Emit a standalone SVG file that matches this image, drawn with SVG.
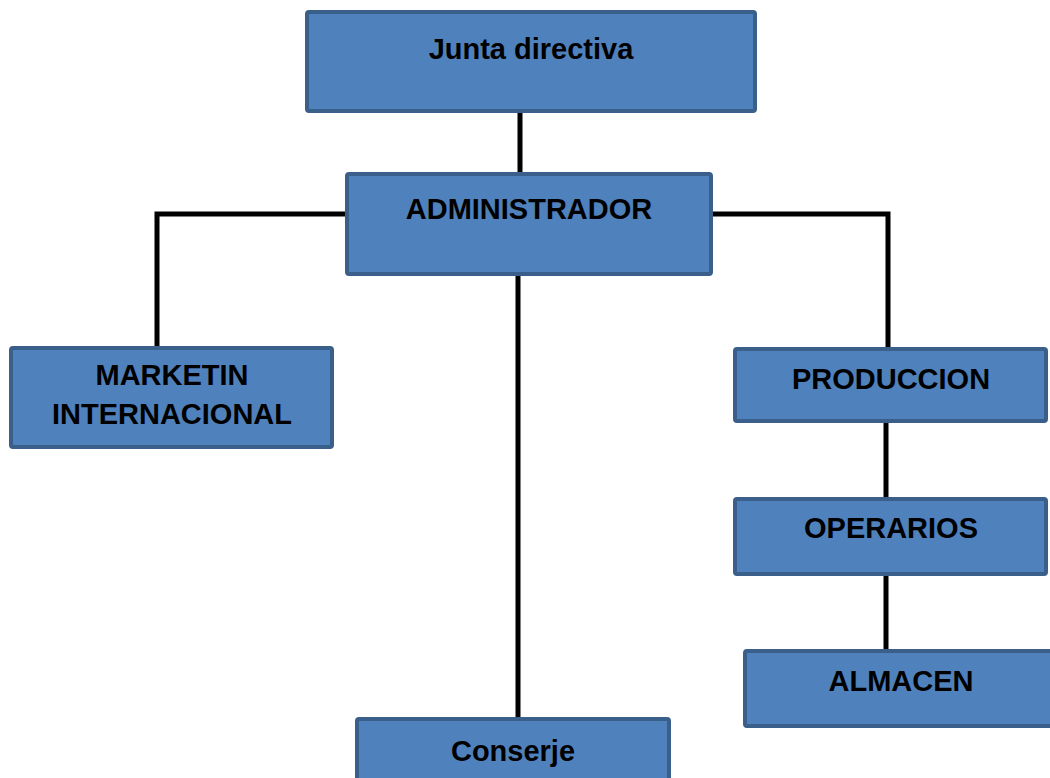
<svg xmlns="http://www.w3.org/2000/svg" width="1050" height="778" viewBox="0 0 1050 778">
<style>
.box{fill:#4F81BD;stroke:#3A5F8B;stroke-width:4}
.lbl{font-family:"Liberation Sans",Arial,sans-serif;font-weight:bold;font-size:29px;fill:#000;text-anchor:middle}
.ln{stroke:#000;stroke-width:5;fill:none}
</style>
<rect width="1050" height="778" fill="#fff"/>
<g id="connectors">
<line class="ln" x1="520" y1="112" x2="520" y2="173"/>
<line class="ln" x1="518" y1="275" x2="518" y2="719"/>
<polyline class="ln" points="346,214 157,214 157,348"/>
<polyline class="ln" points="712,214 888,214 888,350"/>
<line class="ln" x1="886" y1="422" x2="886" y2="498"/>
<line class="ln" x1="886" y1="575" x2="886" y2="650"/>
</g>
<g id="junta"><rect class="box" x="307" y="12" width="448" height="99" rx="2"/><text class="lbl" x="531" y="59">Junta directiva</text></g>
<g id="administrador"><rect class="box" x="347" y="174" width="364" height="100" rx="2"/><text class="lbl" x="529" y="219">ADMINISTRADOR</text></g>
<g id="marketin"><rect class="box" x="11" y="348" width="321" height="99" rx="2"/><text class="lbl" x="172" y="385">MARKETIN</text><text class="lbl" x="172" y="424">INTERNACIONAL</text></g>
<g id="produccion"><rect class="box" x="735" y="349" width="311" height="72" rx="2"/><text class="lbl" x="891" y="389">PRODUCCION</text></g>
<g id="operarios"><rect class="box" x="735" y="499" width="311" height="75" rx="2"/><text class="lbl" x="891" y="538">OPERARIOS</text></g>
<g id="almacen"><rect class="box" x="745" y="651" width="316" height="75" rx="2"/><text class="lbl" x="901" y="691">ALMACEN</text></g>
<g id="conserje"><rect class="box" x="357" y="719" width="312" height="80" rx="2"/><text class="lbl" x="513" y="761">Conserje</text></g>
</svg>
